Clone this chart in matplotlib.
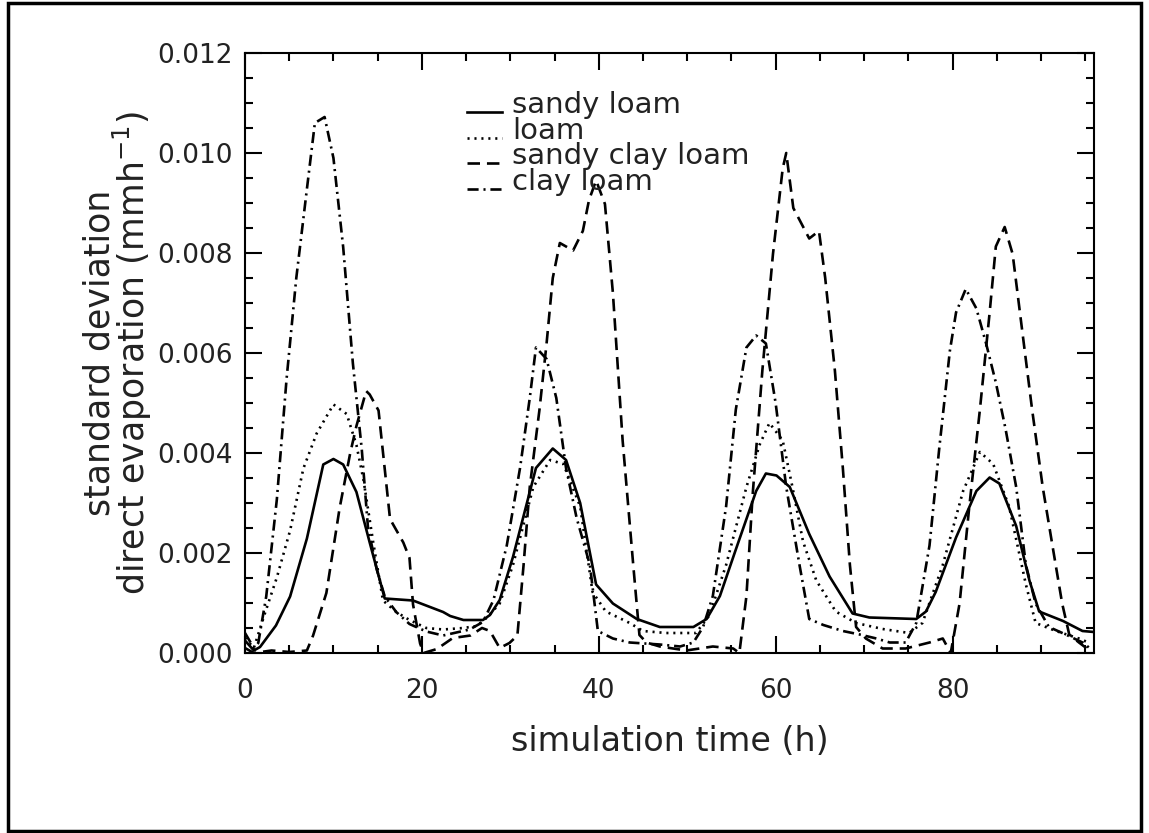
import numpy as np
import matplotlib
matplotlib.use("Agg")
import matplotlib.pyplot as plt
from matplotlib.patches import Rectangle

plt.rcParams['font.family'] = ['DejaVu Sans']
plt.rcParams['lines.scale_dashes'] = False

# (time in h, std dev in 1e-3 mm/h)
sandy_loam = [(0, 0.25), (1, 0.05), (1.7, 0.12), (3.5, 0.55), (5.1, 1.13), (7.0, 2.29),
              (8.85, 3.77), (10.0, 3.88), (11.1, 3.77), (12.6, 3.22), (14.1, 2.21), (15.8, 1.09),
              (19.0, 1.05), (22.4, 0.82), (23.2, 0.74), (24.7, 0.66), (26.9, 0.66), (27.7, 0.76),
              (28.8, 1.06), (30.3, 1.92), (32.9, 3.7), (34.8, 4.09), (36.3, 3.86), (37.9, 3.0),
              (39.7, 1.37), (41.6, 0.99), (44.3, 0.68), (46.9, 0.52), (50.7, 0.52), (52.2, 0.68),
              (53.7, 1.14), (55.5, 2.07), (57.8, 3.24), (58.9, 3.59), (60.1, 3.55), (61.6, 3.32),
              (63.8, 2.38), (66.1, 1.53), (68.7, 0.79), (70.6, 0.71), (75.9, 0.68), (77.0, 0.83),
              (78.1, 1.22), (80.4, 2.31), (82.7, 3.24), (84.2, 3.51), (85.3, 3.39), (87.2, 2.54),
              (88.7, 1.45), (89.8, 0.83), (92.5, 0.64), (94.7, 0.44), (96, 0.42)]

loam = [(0, 0.3), (1, 0.1), (2.3, 0.82), (3.6, 1.51), (5.1, 2.45), (6.6, 3.69), (8.1, 4.39),
        (10.0, 4.97), (11.5, 4.78), (12.6, 4.16), (13.4, 3.46), (14.5, 2.21), (15.6, 1.05),
        (17.1, 0.82), (18.6, 0.66), (20.5, 0.5), (22.4, 0.47), (24.7, 0.5), (26.2, 0.54),
        (27.3, 0.7), (28.8, 0.99), (30.3, 1.76), (32.6, 3.32), (34.5, 3.86), (36.0, 3.78),
        (37.9, 2.93), (39.3, 1.22), (40.8, 0.83), (43.5, 0.6), (45.0, 0.44), (47.6, 0.4),
        (51.0, 0.4), (52.5, 0.75), (54.4, 1.76), (56.7, 3.32), (58.2, 4.17), (59.3, 4.6),
        (60.8, 4.25), (61.9, 3.32), (63.1, 2.23), (64.6, 1.45), (66.8, 0.83), (69.1, 0.6),
        (72.1, 0.48), (75.1, 0.4), (76.6, 0.6), (78.9, 1.76), (81.2, 3.24), (83.1, 4.02),
        (84.6, 3.78), (86.4, 2.93), (88.3, 1.37), (89.4, 0.6), (91.7, 0.44), (94.3, 0.29),
        (95.5, 0.2)]

sandy_clay_loam = [(0, 0.1), (1, 0.0), (3, 0.05), (5, 0.02), (7, 0.05), (7.7, 0.35), (9.2, 1.2),
                   (10.7, 2.9), (11.9, 4.0), (12.6, 4.54), (13.7, 5.24), (14.1, 5.17), (15.1, 4.85),
                   (16.4, 2.68), (17.9, 2.21), (18.6, 1.9), (19.0, 0.97), (19.8, 0.19), (20.2, 0.0),
                   (21.7, 0.08), (23.5, 0.3), (25.5, 0.35), (26.8, 0.5), (27.7, 0.44), (28.8, 0.1),
                   (29.9, 0.2), (30.8, 0.35), (31.5, 1.76), (32.2, 3.32), (33.3, 4.87), (34.1, 6.19),
                   (34.8, 7.5), (35.6, 8.2), (37.1, 8.05), (38.2, 8.44), (38.9, 9.06), (39.7, 9.45),
                   (40.7, 8.98), (41.6, 7.2), (42.7, 4.25), (43.9, 1.76), (44.6, 0.36), (45.4, 0.21),
                   (46.9, 0.13), (49.9, 0.05), (52.9, 0.13), (55.2, 0.09), (55.9, 0.0), (56.7, 1.14),
                   (57.4, 3.16), (58.5, 5.65), (59.7, 7.98), (60.8, 9.69), (61.2, 10.0), (62.0, 8.9),
                   (63.8, 8.29), (64.9, 8.44), (65.6, 7.51), (66.7, 5.65), (67.6, 3.7), (68.4, 1.76),
                   (69.1, 0.52), (70.2, 0.29), (72.1, 0.09), (74.7, 0.09), (77.4, 0.21), (78.9, 0.29),
                   (79.8, 0.0), (80.8, 0.99), (81.9, 2.93), (83.1, 4.87), (84.2, 6.81), (84.9, 8.13),
                   (85.9, 8.52), (86.8, 7.98), (87.9, 6.42), (89.0, 4.87), (90.2, 3.32), (91.3, 2.15),
                   (92.4, 0.99), (93.2, 0.37), (94.3, 0.21), (95.5, 0.05)]

clay_loam = [(0, 0.4), (1.0, 0.1), (1.5, 0.2), (2.4, 1.13), (3.6, 3.07), (4.7, 5.48), (5.8, 7.5),
             (7.0, 9.28), (7.9, 10.6), (9.0, 10.72), (10.0, 9.9), (11.1, 8.12), (12.2, 5.79),
             (13.2, 4.08), (13.9, 2.52), (14.9, 1.67), (15.8, 1.13), (17.1, 0.82), (18.6, 0.58),
             (20.5, 0.43), (22.4, 0.35), (25.4, 0.47), (26.9, 0.62), (28.1, 1.06), (29.6, 2.15),
             (31.1, 3.7), (32.2, 5.1), (32.9, 6.11), (34.1, 5.88), (35.2, 5.1), (36.3, 3.7),
             (37.5, 2.7), (39.0, 1.76), (39.9, 0.44), (41.6, 0.29), (43.5, 0.21), (46.9, 0.17),
             (49.2, 0.13), (50.7, 0.21), (51.8, 0.52), (52.9, 1.14), (54.4, 2.93), (55.5, 4.87),
             (56.7, 6.11), (57.8, 6.35), (58.9, 6.19), (60.0, 5.0), (61.2, 3.32), (62.7, 1.76),
             (63.8, 0.68), (65.4, 0.56), (67.6, 0.44), (69.5, 0.37), (71.4, 0.29), (72.9, 0.21),
             (74.7, 0.21), (75.9, 0.6), (77.4, 2.15), (78.5, 4.09), (79.7, 6.04), (80.4, 6.81),
             (81.5, 7.28), (82.7, 6.89), (83.8, 6.19), (84.9, 5.41), (86.0, 4.48), (87.2, 3.32),
             (88.3, 1.76), (89.4, 0.99), (90.9, 0.52), (92.8, 0.37), (94.7, 0.21), (95.5, 0.1)]

labels = ['sandy loam', 'loam', 'sandy clay loam', 'clay loam']
series = [sandy_loam, loam, sandy_clay_loam, clay_loam]
styles = ['-', (0, (1.5, 3.5)), (0, (9, 5)), (0, (8, 3.5, 1.5, 3.5))]

fig = plt.figure(figsize=(11.49, 8.33), dpi=100)
ax = fig.add_axes([245/1149, 1 - 653/833, (1094-245)/1149, (653-53)/833])

for s, ls in zip(series, styles):
    d = np.array(s)
    ax.plot(d[:, 0], d[:, 1]*1e-3, color='black', lw=1.9, linestyle=ls)

ax.set_xlim(0, 96)
ax.set_ylim(0, 0.012)
ax.set_xticks(np.arange(0, 81, 20))
ax.set_xticks(np.arange(0, 96, 5), minor=True)
ax.set_yticks(np.arange(0, 0.0121, 0.002))
ax.set_yticks(np.arange(0, 0.0121, 0.0005), minor=True)
ax.set_yticklabels(['%.3f' % v for v in np.arange(0, 0.0121, 0.002)])
ax.tick_params(which='both', direction='in', top=True, right=True, width=1.5, labelsize=19,
               labelcolor='#222222')
ax.tick_params(which='major', length=12)
ax.tick_params(which='minor', length=6)
ax.tick_params(axis='x', pad=18)
ax.tick_params(axis='y', pad=9)
for sp in ax.spines.values():
    sp.set_linewidth(1.5)

ax.set_xlabel('simulation time (h)', fontsize=24, labelpad=15, color='#222222')
ax.set_ylabel('standard deviation\ndirect evaporation (mmh$^{-1}$)', fontsize=25,
              labelpad=2, linespacing=0.85, color='#222222')

# legend drawn IDL style: short line sample sitting on the text baseline
for i, (lab, ls) in enumerate(zip(labels, styles)):
    yy = 0.913 - i*0.0425
    ax.plot([0.262, 0.303], [yy - 0.012, yy - 0.012], transform=ax.transAxes,
            color='black', lw=1.9, linestyle=ls)
    ax.text(0.315, yy, lab, transform=ax.transAxes, fontsize=21, va='center', ha='left',
            color='#222222')

# outer frame around the whole picture
fig.patches.append(Rectangle((8/1149, 2/833), 1133/1149, 828/833, transform=fig.transFigure,
                             fill=False, edgecolor='black', lw=2.5))

fig.savefig('out.png', dpi=100)
